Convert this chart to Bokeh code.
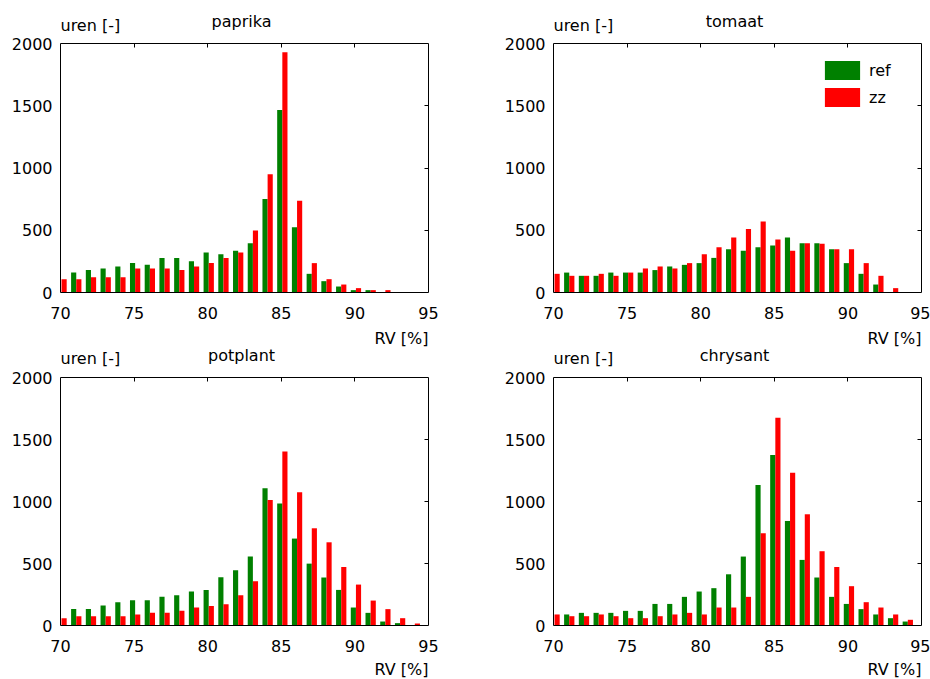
from bokeh.plotting import figure
from bokeh.models import (ColumnDataSource, Range1d, LinearAxis, FixedTicker, Label,
                          Legend, LegendItem)
from bokeh.layouts import column, row
from bokeh.transform import dodge
from bokeh.embed import file_html
from bokeh.resources import INLINE

# ---- data ----
rv_bins = [70, 71, 72, 73, 74, 75, 76, 77, 78, 79, 80, 81, 82, 83, 84,
           85, 86, 87, 88, 89, 90, 91, 92, 93, 94]
x_ticks = [70, 75, 80, 85, 90, 95]
y_ticks = [0, 500, 1000, 1500, 2000]
series_names = ["ref", "zz"]

paprika_ref = [0, 160, 180, 193, 209, 236, 222, 278, 278, 252, 321, 308, 335, 396, 752,
               1465, 525, 150, 91, 48, 19, 19, 0, 0, 0]
paprika_zz = [107, 107, 123, 123, 123, 193, 193, 193, 180, 209, 236, 278, 321, 498, 950,
              1930, 736, 236, 107, 64, 35, 19, 19, 0, 0]

tomaat_ref = [0, 160, 134, 134, 160, 160, 160, 180, 209, 222, 236, 278, 348, 335, 364,
              378, 442, 396, 396, 348, 236, 150, 64, 0, 0]
tomaat_zz = [150, 134, 134, 150, 134, 160, 193, 209, 193, 236, 308, 364, 442, 511, 570,
             426, 335, 396, 391, 348, 348, 236, 134, 35, 0]

potplant_ref = [0, 134, 134, 161, 188, 204, 204, 231, 244, 274, 287, 389, 446, 556, 1106,
                983, 701, 499, 387, 287, 145, 102, 32, 19, 0]
potplant_zz = [59, 75, 75, 75, 75, 89, 102, 102, 118, 145, 158, 172, 244, 357, 1012,
               1404, 1074, 784, 671, 472, 330, 201, 132, 59, 16]

chrysant_ref = [0, 89, 102, 102, 102, 118, 118, 174, 174, 231, 274, 301, 413, 556, 1133,
                1374, 843, 529, 387, 231, 174, 132, 89, 59, 32]
chrysant_zz = [89, 75, 75, 89, 75, 59, 59, 75, 89, 102, 89, 145, 145, 231, 744,
               1675, 1232, 897, 599, 472, 317, 188, 145, 89, 46]

FONT = "DejaVu Sans"
FS = "16px"
TXT = "#000000"
GREEN = "#008000"
RED = "#ff0000"
X0, X1 = 70, 95
Y0, Y1 = 0, 2000


def make_panel(name, ref, zz, fig_w, fig_h, box_left, box_top, box_w, box_h,
               title_up=22, uren_up=18, rv_down=46, legend_pos=None):
    # frame = whole canvas; the box 70..95 x 0..2000 is drawn by fixed axes
    box_bottom = fig_h - box_top - box_h
    xu = (X1 - X0) / box_w
    yu = (Y1 - Y0) / box_h
    x_range = Range1d(X0 - box_left * xu, X1 + (fig_w - box_left - box_w) * xu)
    y_range = Range1d(Y0 - box_bottom * yu, Y1 + box_top * yu)
    p = figure(width=fig_w, height=fig_h, output_backend="svg", toolbar_location=None,
               x_range=x_range, y_range=y_range,
               x_axis_location=None, y_axis_location=None,
               min_border_left=0, min_border_right=0,
               min_border_top=0, min_border_bottom=0)
    p.grid.visible = False
    p.outline_line_color = None
    p.background_fill_color = "white"
    p.border_fill_color = "white"

    src = ColumnDataSource(dict(x=rv_bins, ref=ref, zz=zz))
    rg = p.vbar(x=dodge("x", -0.105), top="ref", bottom=0, width=0.35, source=src,
                fill_color=GREEN, line_color=None)
    rr = p.vbar(x=dodge("x", 0.245), top="zz", bottom=0, width=0.35, source=src,
                fill_color=RED, line_color=None)

    def make_axis(ticks, loc, bounds, labels=True, tick_in=0, standoff=8):
        ax = LinearAxis(ticker=FixedTicker(ticks=ticks), fixed_location=loc, bounds=bounds)
        ax.axis_line_color = "#000000"
        ax.axis_line_width = 1
        ax.major_tick_in = tick_in
        ax.major_tick_out = 0
        ax.major_tick_line_color = "#000000"
        ax.minor_tick_line_color = None
        ax.major_label_text_font = FONT
        ax.major_label_text_font_size = FS if labels else "0px"
        ax.major_label_text_color = TXT
        ax.major_label_standoff = standoff if labels else 0
        if not labels:
            ax.major_label_overrides = {t: "" for t in ticks}
        return ax

    p.add_layout(make_axis(x_ticks, Y0, (X0, X1), standoff=14), "below")
    p.add_layout(make_axis(y_ticks, X0, (Y0, Y1), standoff=8), "left")
    p.add_layout(make_axis(x_ticks[1:-1], Y1, (X0, X1), labels=False, tick_in=4), "above")
    p.add_layout(make_axis(y_ticks[1:-1], X1, (Y0, Y1), labels=False, tick_in=4), "right")

    common = dict(text_font=FONT, text_font_size=FS, text_color=TXT,
                  text_baseline="middle", x_units="data", y_units="screen")
    p.add_layout(Label(x=82.3, y=box_bottom + box_h + title_up, text=name,
                       text_align="center", **common))
    p.add_layout(Label(x=X0, y=box_bottom + box_h + uren_up, text="uren [-]",
                       text_align="left", **common))
    p.add_layout(Label(x=X1, y=box_bottom - rv_down, text="RV [%]",
                       text_align="right", **common))

    if legend_pos is not None:
        lg = Legend(items=[LegendItem(label=series_names[0], renderers=[rg]),
                           LegendItem(label=series_names[1], renderers=[rr])],
                    location=legend_pos, orientation="vertical",
                    glyph_width=44, glyph_height=24, label_height=24,
                    label_standoff=5, spacing=3, padding=0, margin=0,
                    label_text_font=FONT, label_text_font_size=FS,
                    label_text_color=TXT,
                    border_line_color=None, background_fill_alpha=0)
        p.add_layout(lg)
    return p


p1 = make_panel("paprika", paprika_ref, paprika_zz, 465, 347, 60, 43, 368, 249)
p2 = make_panel("tomaat", tomaat_ref, tomaat_zz, 465, 347, 88, 43, 368, 249,
                legend_pos=(355, 238))
p3 = make_panel("potplant", potplant_ref, potplant_zz, 465, 332, 60, 30, 368, 248,
                title_up=22, uren_up=19, rv_down=44)
p4 = make_panel("chrysant", chrysant_ref, chrysant_zz, 465, 332, 88, 30, 368, 248,
                title_up=22, uren_up=19, rv_down=44)

layout = column(row(p1, p2, spacing=0), row(p3, p4, spacing=0), spacing=0)

open("out.html", "w").write(file_html(layout, INLINE))
